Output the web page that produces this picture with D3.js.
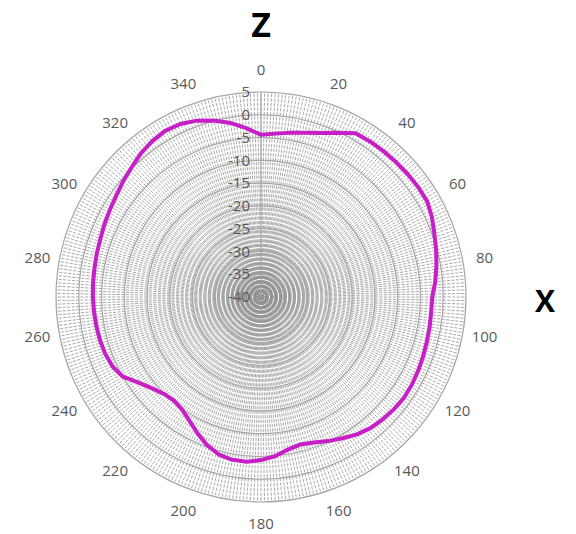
<!DOCTYPE html>
<html>
<head>
<meta charset="utf-8">
<script src="https://cdn.jsdelivr.net/npm/d3@7"></script>
<style>
  body { margin: 0; background: #fff; }
  svg { display: block; }
</style>
</head>
<body>
<svg id="chart" width="576" height="534"></svg>
<script>
// Measured response (dB) at each angle (degrees)
const angles = [0, 5, 10, 15, 20, 25, 30, 35, 40, 45, 50, 55, 60, 65, 70, 75, 80, 85,
  90, 95, 100, 105, 110, 115, 120, 125, 130, 135, 140, 145, 150, 155, 160, 165, 170, 175,
  180, 185, 190, 195, 200, 205, 210, 215, 220, 225, 230, 235, 240, 245, 250, 255, 260, 265,
  270, 275, 280, 285, 290, 295, 300, 305, 310, 315, 320, 325, 330, 335, 340, 345, 350, 355];
const values = [-4.4, -4.0, -3.4, -2.7, -1.7, -0.2, 1.5, 1.7, 1.8, 1.9, 2.0, 2.1, 2.1, 1.4, 0.5, -0.2, -0.9, -1.6,
  -2.4, -2.5, -2.4, -2.3, -2.1, -1.9, -1.7, -1.6, -1.8, -2.1, -2.5, -3.2, -4.2, -5.1, -6.0, -6.5, -6.0, -4.9,
  -4.2, -3.7, -3.7, -4.2, -5.4, -7.0, -8.6, -9.8, -10.3, -9.9, -8.8, -7.2, -5.0, -4.0, -3.6, -3.4, -3.3, -3.2,
  -3.1, -3.0, -2.9, -2.7, -2.5, -2.1, -1.7, -1.2, -0.5, 0.2, 1.1, 1.7, 2.1, 1.9, 1.2, 0.1, -1.2, -2.8];
const angleLabels = [0, 20, 40, 60, 80, 100, 120, 140, 160, 180, 200, 220, 240, 260, 280, 300, 320, 340];
const valueTicks = [-40, -35, -30, -25, -20, -15, -10, -5, 0, 5];

const cx = 261, cy = 297, outerR = 205;

const svg = d3.select('#chart');

const angle = d3.scaleLinear().domain([0, 360]).range([0, 2 * Math.PI]);
const r = d3.scaleLinear().domain([-40, 5]).range([0, outerR]);

const g = svg.append('g').attr('transform', `translate(${cx},${cy})`);

// Spokes, one per degree, dashed so the gaps line up into rings
g.append('g')
  .selectAll('line')
  .data(d3.range(0, 360))
  .enter()
  .append('line')
  .attr('x1', 0)
  .attr('y1', 0)
  .attr('x2', d => outerR * Math.sin(angle(d)))
  .attr('y2', d => -outerR * Math.cos(angle(d)))
  .attr('stroke', '#939393')
  .attr('stroke-width', 0.8)
  .attr('stroke-dasharray', '3.2,1.35');

// Major rings
g.append('g')
  .selectAll('circle')
  .data(valueTicks.filter(v => v > -40))
  .enter()
  .append('circle')
  .attr('r', d => r(d))
  .attr('fill', 'none')
  .attr('stroke', '#a6a6a6')
  .attr('stroke-width', 1.2);

// Value axis line
g.append('line')
  .attr('x1', 0).attr('y1', 0)
  .attr('x2', 0).attr('y2', -outerR)
  .attr('stroke', '#a6a6a6')
  .attr('stroke-width', 1.2);

// Value labels
g.append('g')
  .selectAll('text')
  .data(valueTicks)
  .enter()
  .append('text')
  .attr('x', -11)
  .attr('y', d => -r(d))
  .attr('dy', '0.35em')
  .attr('text-anchor', 'end')
  .style('font-family', '"Open Sans", sans-serif')
  .style('font-size', '15px')
  .style('fill', '#595959')
  .text(d => d);

// Angle labels
const labelR = outerR + 22;
g.append('g')
  .selectAll('text')
  .data(angleLabels)
  .enter()
  .append('text')
  .attr('x', d => labelR * Math.sin(angle(d)))
  .attr('y', d => -labelR * Math.cos(angle(d)))
  .attr('dy', '0.35em')
  .attr('text-anchor', 'middle')
  .style('font-family', '"Open Sans", sans-serif')
  .style('font-size', '15px')
  .style('fill', '#595959')
  .text(d => d);

// Data line
const data = angles.map((a, i) => ({ a: a, v: values[i] }));
const line = d3.lineRadial()
  .angle(d => angle(d.a))
  .radius(d => r(d.v))
  .curve(d3.curveLinearClosed);

g.append('path')
  .datum(data)
  .attr('d', line)
  .attr('fill', 'none')
  .attr('stroke', '#c81ec8')
  .attr('stroke-width', 4)
  .attr('stroke-linejoin', 'round');

// Axis titles
svg.append('text')
  .attr('x', 261)
  .attr('y', 25)
  .attr('dy', '0.35em')
  .attr('text-anchor', 'middle')
  .style('font-family', '"Open Sans", sans-serif')
  .style('font-weight', '700')
  .style('font-size', '34px')
  .style('fill', '#000')
  .text('Z');

svg.append('text')
  .attr('x', 545)
  .attr('y', 301)
  .attr('dy', '0.35em')
  .attr('text-anchor', 'middle')
  .style('font-family', '"Open Sans", sans-serif')
  .style('font-weight', '700')
  .style('font-size', '30px')
  .style('fill', '#000')
  .text('X');
</script>
</body>
</html>
